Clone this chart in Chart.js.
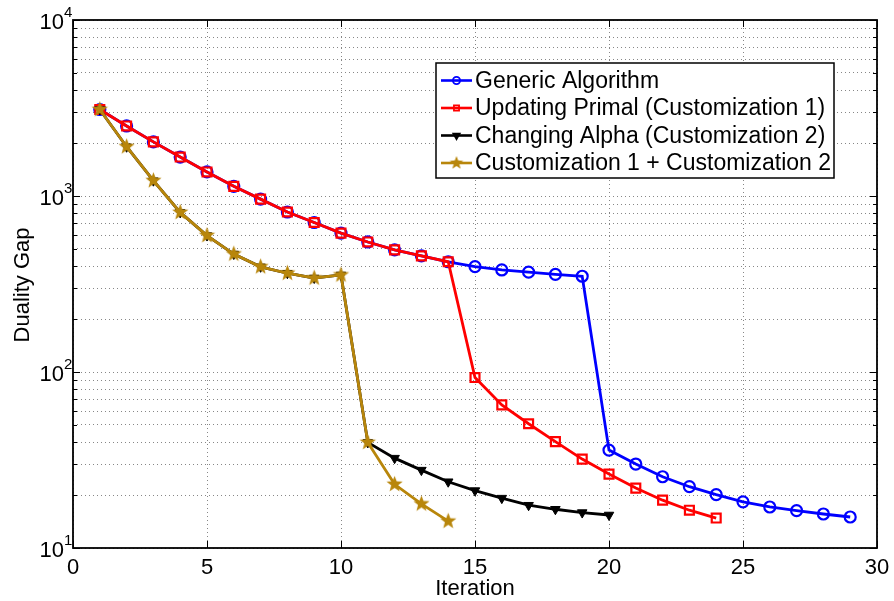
<!DOCTYPE html>
<html>
<head>
<meta charset="utf-8">
<script src="https://cdn.jsdelivr.net/npm/chart.js@4.4.1/dist/chart.umd.min.js"></script>
<style>
  html, body { margin: 0; padding: 0; background: #fff; }
  canvas { display: block; }
</style>
</head>
<body>
<canvas id="gapChart" width="894" height="601"></canvas>
<script>
// values (log scale)
const seriesNames = [
  'Generic Algorithm',
  'Updating Primal (Customization 1)',
  'Changing Alpha (Customization 2)',
  'Customization 1 + Customization 2'
];
const genericGap = [3100, 2500, 2030, 1665, 1370, 1135, 960, 811, 707, 615, 548, 494, 457, 423,
  397, 380, 369, 359, 350, 36, 30, 25.4, 22.3, 20.1, 18.3, 17.1, 16.3, 15.6, 15.0];
const primalGap = [3100, 2500, 2030, 1665, 1370, 1135, 960, 811, 707, 615, 548, 494, 457, 423,
  93, 65, 50.8, 40.2, 32, 26.3, 21.9, 18.7, 16.4, 14.8];
const alphaGap = [3100, 1905, 1222, 807, 596, 468, 396, 364, 342, 356,
  39.8, 32.4, 27.7, 23.8, 21.2, 19.2, 17.5, 16.6, 15.9, 15.4];
const bothGap = [3100, 1905, 1222, 807, 596, 468, 396, 364, 342, 356, 39.8, 23.0, 17.8, 14.2];
const xTicks = [0, 5, 10, 15, 20, 25, 30];
const yTicks = [10, 100, 1000, 10000];
const xTitle = 'Iteration';
const yTitle = 'Duality Gap';

const gold = 'rgb(184,134,11)';
const FONT = '"Liberation Sans", Arial, sans-serif';

function pts(arr) {
  return arr.map((v, i) => ({ x: i + 1, y: v }));
}

// filled five point star marker
function makeStar(r) {
  const c = document.createElement('canvas');
  c.width = c.height = Math.ceil(r * 2 + 2);
  const g = c.getContext('2d');
  const cx = c.width / 2, cy = c.height / 2;
  g.beginPath();
  for (let k = 0; k < 10; k++) {
    const rad = k % 2 === 0 ? r : r * 0.42;
    const a = -Math.PI / 2 + k * Math.PI / 5;
    g.lineTo(cx + rad * Math.cos(a), cy + rad * Math.sin(a));
  }
  g.closePath();
  g.fillStyle = gold;
  g.fill();
  return c;
}
const starBig = makeStar(8.5);
const starSmall = makeStar(7);

const data = {
  datasets: [
    {
      label: seriesNames[0], data: pts(genericGap), order: 4,
      borderColor: '#0000ff', borderWidth: 2.8,
      pointStyle: 'circle', pointRadius: 5.5, pointBorderWidth: 2.2,
      pointBorderColor: '#0000ff', pointBackgroundColor: 'rgba(0,0,0,0)'
    },
    {
      label: seriesNames[1], data: pts(primalGap), order: 3,
      borderColor: '#ff0000', borderWidth: 2.8,
      pointStyle: 'rect', pointRadius: 6.3, pointBorderWidth: 2.2,
      pointBorderColor: '#ff0000', pointBackgroundColor: 'rgba(0,0,0,0)'
    },
    {
      label: seriesNames[2], data: pts(alphaGap), order: 2,
      borderColor: '#000000', borderWidth: 2.8,
      pointStyle: 'triangle', rotation: 180, pointRadius: 5.5, pointBorderWidth: 1,
      pointBorderColor: '#000000', pointBackgroundColor: '#000000'
    },
    {
      label: seriesNames[3], data: pts(bothGap), order: 1,
      borderColor: gold, borderWidth: 2.8,
      pointStyle: starBig, pointRadius: 8,
      pointBorderColor: gold, pointBackgroundColor: gold
    }
  ]
};

// box, inward ticks, tick labels, titles, legend
const matlabLook = {
  id: 'matlabLook',
  afterDraw(chart) {
    const ctx = chart.ctx;
    const xs = chart.scales.x, ys = chart.scales.y;
    const L = xs.getPixelForValue(0), R = xs.getPixelForValue(30);
    const T = ys.getPixelForValue(10000), B = ys.getPixelForValue(10);
    ctx.save();
    ctx.strokeStyle = '#000';
    ctx.lineWidth = 1.8;
    ctx.strokeRect(L, T, R - L, B - T);

    ctx.lineWidth = 1;
    ctx.beginPath();
    xTicks.forEach(v => {
      const px = Math.round(xs.getPixelForValue(v)) + 0.5;
      ctx.moveTo(px, B); ctx.lineTo(px, B - 7);
      ctx.moveTo(px, T); ctx.lineTo(px, T + 7);
    });
    for (let d = 10; d < 10000; d *= 10) {
      for (let m = 1; m <= 10; m++) {
        const py = Math.round(ys.getPixelForValue(d * m)) + 0.5;
        const len = m === 1 || m === 10 ? 7 : 4;
        ctx.moveTo(L, py); ctx.lineTo(L + len, py);
        ctx.moveTo(R, py); ctx.lineTo(R - len, py);
      }
    }
    ctx.stroke();

    ctx.fillStyle = '#000';
    ctx.textBaseline = 'alphabetic';
    // x tick labels
    ctx.font = '22px ' + FONT;
    ctx.textAlign = 'center';
    xTicks.forEach(v => {
      ctx.fillText(String(v), xs.getPixelForValue(v), B + 26);
    });
    // y tick labels: 10 with raised exponent
    yTicks.forEach(v => {
      const py = ys.getPixelForValue(v);
      const exp = String(Math.round(Math.log10(v)));
      ctx.font = '22px ' + FONT;
      ctx.textAlign = 'right';
      ctx.fillText('10', 64, py + 9);
      ctx.font = '15px ' + FONT;
      ctx.textAlign = 'left';
      ctx.fillText(exp, 64, py - 3);
    });
    // axis titles
    ctx.font = '22px ' + FONT;
    ctx.textAlign = 'center';
    ctx.fillText(xTitle, (L + R) / 2, 595);
    ctx.save();
    ctx.translate(29, (T + B) / 2 + 1);
    ctx.rotate(-Math.PI / 2);
    ctx.fillText(yTitle, 0, 0);
    ctx.restore();

    // legend
    const lx = 436, ly = 63, lw = 398, lh = 115;
    ctx.fillStyle = '#fff';
    ctx.fillRect(lx, ly, lw, lh);
    ctx.strokeStyle = '#000';
    ctx.lineWidth = 1.5;
    ctx.strokeRect(lx, ly, lw, lh);
    const rowY = [80.5, 108, 135.5, 163];
    chart.data.datasets.forEach((ds, i) => {
      const y = rowY[i];
      ctx.strokeStyle = ds.borderColor;
      ctx.lineWidth = 2.6;
      ctx.beginPath();
      ctx.moveTo(441, y); ctx.lineTo(472, y);
      ctx.stroke();
      ctx.lineWidth = 1.8;
      ctx.strokeStyle = ds.pointBorderColor;
      ctx.fillStyle = ds.pointBackgroundColor;
      const style = ds.pointStyle === starBig ? starSmall : ds.pointStyle;
      Chart.helpers.drawPoint(ctx, {
        pointStyle: style, radius: 3.6, rotation: ds.rotation || 0, borderWidth: 1.8
      }, 456.5, y);
      ctx.fillStyle = '#000';
      ctx.font = '23px ' + FONT;
      ctx.textAlign = 'left';
      ctx.textBaseline = 'middle';
      ctx.fillText(ds.label, 475, y + 1);
    });
    ctx.restore();
  }
};

const grid = {
  color: 'rgb(135,135,135)',
  lineWidth: 1,
  drawTicks: false
};

new Chart(document.getElementById('gapChart').getContext('2d'), {
  type: 'line',
  data: data,
  options: {
    responsive: false,
    animation: false,
    layout: { padding: { left: 0, right: 17, top: 20, bottom: 0 } },
    plugins: { legend: { display: false }, tooltip: { enabled: false } },
    scales: {
      x: {
        type: 'linear', min: 0, max: 30,
        afterBuildTicks: s => { s.ticks = xTicks.map(v => ({ value: v })); },
        afterFit: s => { s.height = 53; },
        grid: grid,
        border: { display: false, dash: [1, 3] },
        ticks: { display: false }
      },
      y: {
        type: 'logarithmic', min: 10, max: 10000,
        afterBuildTicks: s => {
          const t = [];
          for (let d = 10; d < 10000; d *= 10) {
            for (let m = 1; m < 10; m++) t.push({ value: d * m });
          }
          t.push({ value: 10000 });
          s.ticks = t;
        },
        afterFit: s => { s.width = 73; },
        grid: grid,
        border: { display: false, dash: [1, 3] },
        ticks: { display: false }
      }
    }
  },
  plugins: [matlabLook]
});
</script>
</body>
</html>
